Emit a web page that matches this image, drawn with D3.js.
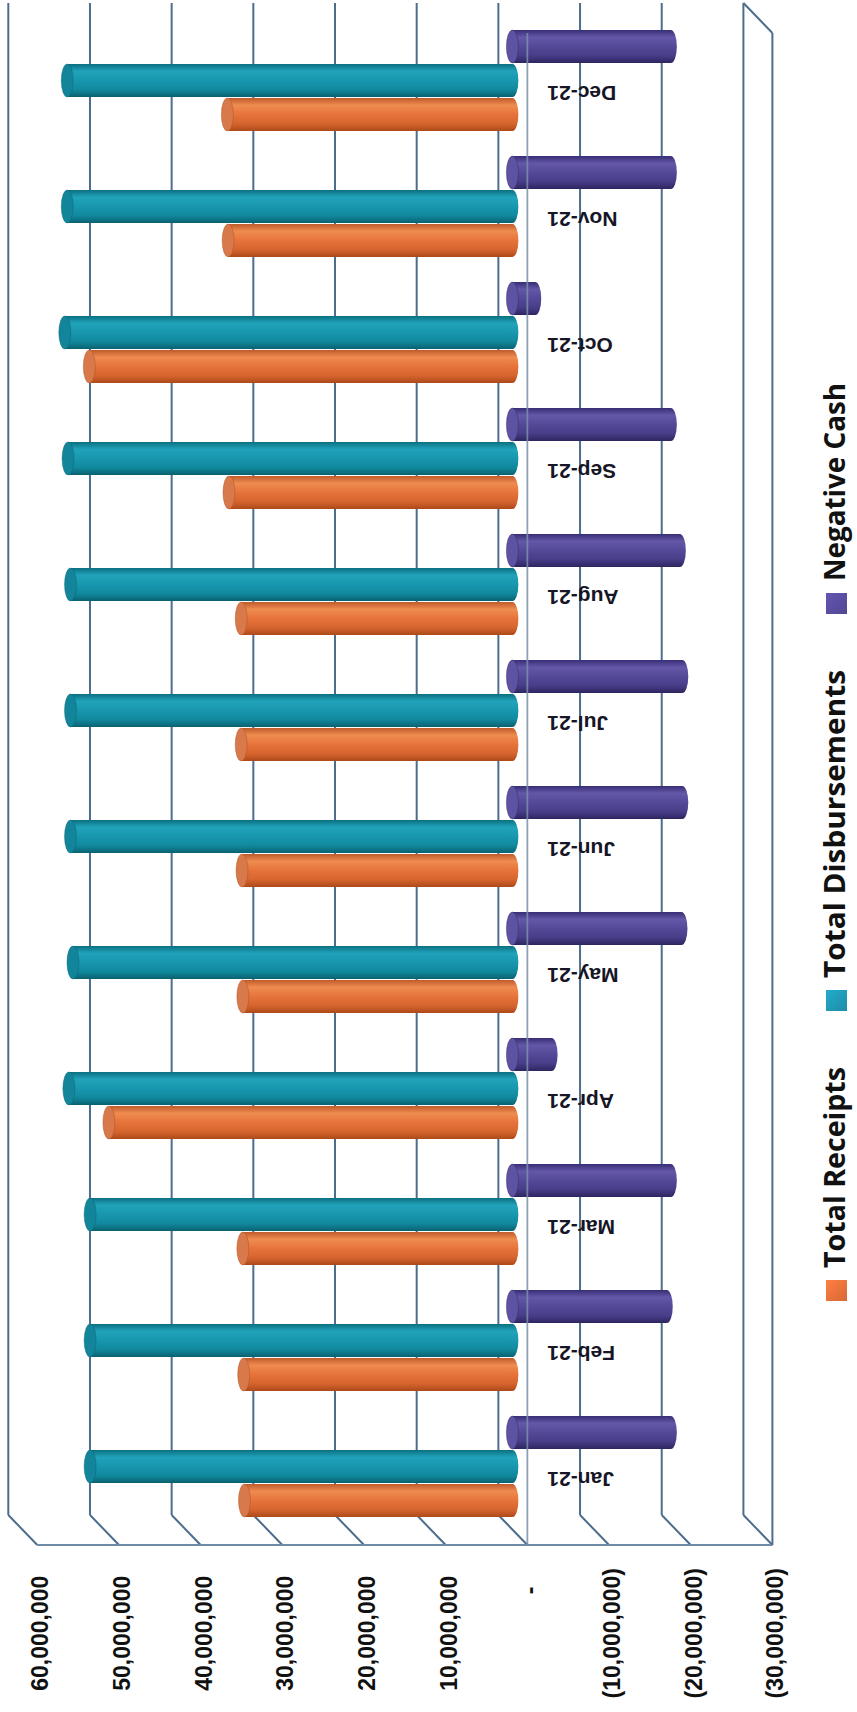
<!DOCTYPE html>
<html>
<head>
<meta charset="utf-8">
<script src="https://cdn.jsdelivr.net/npm/d3@7"></script>
<style>
  html, body { margin: 0; padding: 0; background: #ffffff; }
  svg { display: block; }
</style>
</head>
<body>
<svg id="chart" width="857" height="1712"></svg>
<script>
// ---- data ----
const months = ["Jan-21", "Feb-21", "Mar-21", "Apr-21", "May-21", "Jun-21",
                "Jul-21", "Aug-21", "Sep-21", "Oct-21", "Nov-21", "Dec-21"];
const totalReceipts = [32.8e6, 32.9e6, 33.0e6, 49.4e6, 33.0e6, 33.1e6,
                       33.2e6, 33.2e6, 34.7e6, 51.8e6, 34.8e6, 34.9e6];
const totalDisbursements = [51.7e6, 51.7e6, 51.7e6, 54.3e6, 53.8e6, 54.1e6,
                            54.1e6, 54.1e6, 54.4e6, 54.8e6, 54.5e6, 54.5e6];
const negativeCash = [-19.4e6, -18.9e6, -19.4e6, -4.8e6, -20.7e6, -20.8e6,
                      -20.8e6, -20.5e6, -19.4e6, -2.8e6, -19.4e6, -19.4e6];
const seriesNames = ["Total Receipts", "Total Disbursements", "Negative Cash"];
const tickValues = [60e6, 50e6, 40e6, 30e6, 20e6, 10e6, 0, -10e6, -20e6, -30e6];
const tickLabels = ["60,000,000", "50,000,000", "40,000,000", "30,000,000", "20,000,000",
                    "10,000,000", "-", "(10,000,000)", "(20,000,000)", "(30,000,000)"];

// ---- layout (chart is drawn turned a quarter turn: values run right-to-left) ----
const svg = d3.select("#chart");
const wall = { left: 8.3, right: 743.4, top: 3, bottom: 1515 };   // back wall
const depth = { dx: 29, dy: 30 };                                 // oblique depth offset
const barDy = 14.5, barDx = barDy * depth.dx / depth.dy;          // bars sit mid-depth
const gridColor = "#4d6d8d";

const x = d3.scaleLinear().domain([60e6, -30e6]).range([wall.left, wall.right]);
const xBar = v => x(v) + barDx;
const y = d3.scaleBand().domain(months.slice().reverse()).range([wall.top, wall.bottom]);
const groupH = 102;
const yInner = d3.scaleBand()
  .domain(["Negative Cash", "Total Disbursements", "Total Receipts"])
  .range([0, groupH]);

// ---- gradients for cylinders ----
const defs = svg.append("defs");
const palette = {
  "Total Receipts":      { stops: ["#bf5a2b", "#ef8c50", "#e6733a", "#d6642e", "#ad4a1a"], cap: "#d7794a", mark: "#e8703a" },
  "Total Disbursements": { stops: ["#0c6f81", "#20a3ba", "#1897ae", "#11889d", "#0a6170"], cap: "#13859a", mark: "#1f97b3" },
  "Negative Cash":       { stops: ["#372e74", "#6457a8", "#544998", "#473d88", "#2d255f"], cap: "#5e53a2", mark: "#574c9d" }
};
const stopOffsets = [0, 0.22, 0.5, 0.78, 1];
seriesNames.forEach((s, k) => {
  const g = defs.append("linearGradient").attr("id", "grad" + k)
    .attr("x1", 0).attr("y1", 0).attr("x2", 0).attr("y2", 1);
  palette[s].stops.forEach((c, j) => g.append("stop").attr("offset", stopOffsets[j]).attr("stop-color", c));
  const m = defs.append("linearGradient").attr("id", "mark" + k)
    .attr("x1", 0).attr("y1", 0).attr("x2", 1).attr("y2", 1);
  m.append("stop").attr("offset", 0).attr("stop-color", d3.color(palette[s].mark).brighter(0.35));
  m.append("stop").attr("offset", 1).attr("stop-color", d3.color(palette[s].mark).darker(0.2));
});

// ---- walls and gridlines ----
const frame = svg.append("g").attr("stroke", gridColor).attr("stroke-width", 2).attr("fill", "none");
frame.selectAll("line.grid").data(tickValues).join("line")
  .attr("class", "grid")
  .attr("x1", d => x(d)).attr("x2", d => x(d))
  .attr("y1", wall.top).attr("y2", wall.bottom);
frame.selectAll("line.side").data(tickValues).join("line")
  .attr("class", "side")
  .attr("x1", d => x(d)).attr("y1", wall.bottom)
  .attr("x2", d => x(d) + depth.dx).attr("y2", wall.bottom + depth.dy);
// front edge of the side wall
frame.append("line")
  .attr("x1", x(60e6) + depth.dx).attr("x2", x(-30e6) + depth.dx)
  .attr("y1", wall.bottom + depth.dy).attr("y2", wall.bottom + depth.dy)
  .attr("stroke", "#6f8aa3");
// floor at the minimum value
frame.append("line")
  .attr("x1", x(-30e6)).attr("y1", wall.top)
  .attr("x2", x(-30e6) + depth.dx).attr("y2", wall.top + depth.dy);
frame.append("line")
  .attr("x1", x(-30e6) + depth.dx).attr("x2", x(-30e6) + depth.dx)
  .attr("y1", wall.top + depth.dy).attr("y2", wall.bottom + depth.dy);

// ---- cylinders ----
const barData = [];
months.forEach((m, i) => {
  [totalReceipts[i], totalDisbursements[i], negativeCash[i]].forEach((v, k) => {
    barData.push({ month: m, series: seriesNames[k], k, value: v });
  });
});
const barH = 33, capRx = 6;
const bars = svg.append("g").selectAll("g.bar").data(barData).join("g").attr("class", "bar");
bars.each(function (d) {
  const g = d3.select(this);
  const yc = y(d.month) + (y.bandwidth() - groupH) / 2 + barDy + yInner(d.series) + yInner.bandwidth() / 2;
  const x0 = xBar(0), x1 = xBar(d.value);
  const xl = Math.min(x0, x1), xr = Math.max(x0, x1);
  g.append("ellipse").attr("cx", xr).attr("cy", yc).attr("rx", capRx).attr("ry", barH / 2)
    .attr("fill", `url(#grad${d.k})`);
  g.append("rect").attr("x", xl).attr("y", yc - barH / 2).attr("width", xr - xl).attr("height", barH)
    .attr("fill", `url(#grad${d.k})`);
  g.append("ellipse").attr("cx", xl).attr("cy", yc).attr("rx", capRx).attr("ry", barH / 2)
    .attr("fill", palette[d.series].cap)
    .attr("stroke", palette[d.series].stops[4]).attr("stroke-width", 0.6).attr("stroke-opacity", 0.7);
});

// ---- category axis line at zero on the front plane ----
svg.append("line")
  .attr("x1", x(0) + depth.dx).attr("x2", x(0) + depth.dx)
  .attr("y1", wall.top + depth.dy).attr("y2", wall.bottom + depth.dy)
  .attr("stroke", "#7890a8").attr("stroke-width", 1.8).attr("stroke-opacity", 0.85);

// ---- month labels (turned upside down) ----
svg.append("g").selectAll("text").data(months).join("text")
  .attr("transform", d => `translate(${x(0) + depth.dx + 20},${y(d) + y.bandwidth() / 2 + 20}) rotate(180)`)
  .attr("text-anchor", "end")
  .attr("font-family", "'Liberation Sans', Arial, sans-serif")
  .attr("font-weight", "bold").attr("font-size", 21).attr("fill", "#161626")
  .text(d => d);

// ---- value axis labels ----
const axisFont = "'Liberation Sans', Arial, sans-serif";
const labelTop = 1568;
const probe = svg.append("text").attr("font-family", axisFont).attr("font-weight", "bold")
  .attr("font-size", 23).text(")");
const parenW = probe.node().getComputedTextLength();
probe.remove();
svg.append("g").selectAll("text").data(tickValues).join("text")
  .attr("transform", (d, i) => {
    const pad = d < 0 ? 0 : (d === 0 ? parenW + 11 : parenW);
    return `translate(${x(d) + 40},${labelTop + pad}) rotate(-90)`;
  })
  .attr("text-anchor", "end")
  .attr("font-family", axisFont).attr("font-weight", "bold").attr("font-size", 23)
  .attr("fill", "#111111")
  .text((d, i) => tickLabels[i]);

// ---- legend (reads bottom to top along the right edge) ----
const legendText = { "Total Receipts": 201, "Total Disbursements": 308, "Negative Cash": 198 };
const legend = svg.append("g");
let cursor = 1301;
seriesNames.forEach((s, k) => {
  const mk = 21;
  legend.append("rect").attr("x", 826).attr("y", cursor - mk).attr("width", mk).attr("height", mk)
    .attr("fill", `url(#mark${k})`);
  const start = cursor - mk - 12;
  legend.append("text")
    .attr("transform", `translate(845,${start}) rotate(-90)`)
    .attr("text-anchor", "start")
    .attr("font-family", "'Open Sans', 'Noto Sans', sans-serif")
    .attr("font-weight", "bold").attr("font-size", 29).attr("fill", "#111111")
    .attr("textLength", legendText[s]).attr("lengthAdjust", "spacingAndGlyphs")
    .text(s);
  cursor = start - legendText[s] - 56;
});
</script>
</body>
</html>
